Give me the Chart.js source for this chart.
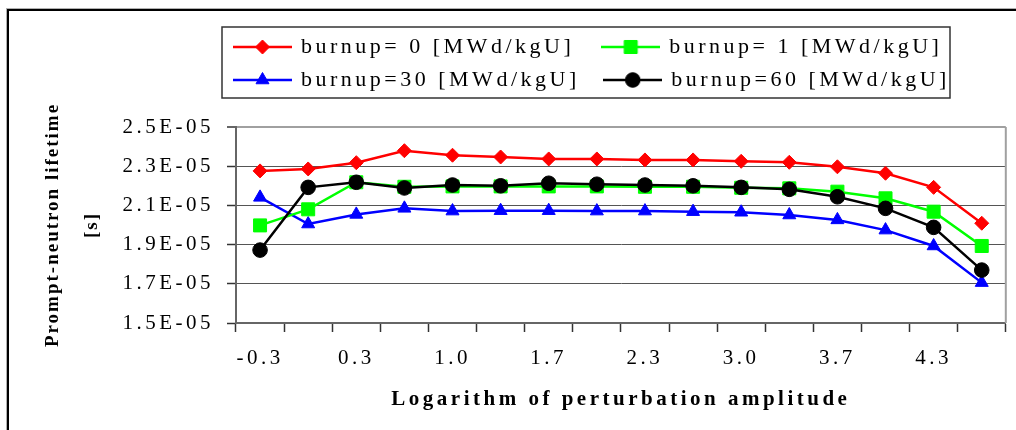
<!DOCTYPE html>
<html>
<head>
<meta charset="utf-8">
<script src="https://cdn.jsdelivr.net/npm/chart.js@4.4.1/dist/chart.umd.min.js"></script>
<style>
  html, body { margin: 0; padding: 0; background: #ffffff; }
  canvas { display: block; }
</style>
</head>
<body>
<canvas id="c" width="1016" height="430"></canvas>
<script>
// ---- data ----
const categories = ['-0.3', '0.0', '0.3', '0.7', '1.0', '1.3', '1.7', '2.0', '2.3', '2.7', '3.0', '3.3', '3.7', '4.0', '4.3', '4.7'];
const burnup0  = [2.276e-5, 2.286e-5, 2.318e-5, 2.379e-5, 2.356e-5, 2.347e-5, 2.337e-5, 2.337e-5, 2.332e-5, 2.332e-5, 2.325e-5, 2.320e-5, 2.297e-5, 2.264e-5, 2.192e-5, 2.009e-5];
const burnup1  = [1.998e-5, 2.080e-5, 2.218e-5, 2.195e-5, 2.197e-5, 2.197e-5, 2.197e-5, 2.197e-5, 2.195e-5, 2.195e-5, 2.190e-5, 2.187e-5, 2.170e-5, 2.136e-5, 2.068e-5, 1.893e-5];
const burnup30 = [2.141e-5, 2.005e-5, 2.054e-5, 2.085e-5, 2.071e-5, 2.073e-5, 2.073e-5, 2.071e-5, 2.071e-5, 2.068e-5, 2.065e-5, 2.051e-5, 2.026e-5, 1.974e-5, 1.893e-5, 1.706e-5];
const burnup60 = [1.872e-5, 2.192e-5, 2.218e-5, 2.189e-5, 2.204e-5, 2.200e-5, 2.213e-5, 2.208e-5, 2.204e-5, 2.200e-5, 2.192e-5, 2.182e-5, 2.144e-5, 2.085e-5, 1.988e-5, 1.770e-5];
const seriesLabels = ['burnup= 0 [MWd/kgU]', 'burnup= 1 [MWd/kgU]', 'burnup=30 [MWd/kgU]', 'burnup=60 [MWd/kgU]'];
const yTickLabels = ['1.5E-05', '1.7E-05', '1.9E-05', '2.1E-05', '2.3E-05', '2.5E-05'];
const yMin = 1.5e-5, yMax = 2.5e-5, yStep = 0.2e-5;

const SERIF = "'Liberation Serif', 'Times New Roman', serif";
const colors = ['#ff0000', '#00ff00', '#0000ff', '#000000'];
const styles = ['rectRot', 'rect', 'triangle', 'circle'];
const radii = [7, 9.2, 7.5, 7.3];
const seriesData = [burnup0, burnup1, burnup30, burnup60];
const drawOrder = [1, 2, 3, 0];
// trailing gap after each legend text so that the legend columns line up
const legendGaps = ['  ', '  ', '\u2002', '\u2002'];

// legend samples: a line with the marker, using the library's own point drawing
function makeIcon(i) {
  const c = document.createElement('canvas');
  c.width = 59; c.height = 20;
  const g = c.getContext('2d');
  g.strokeStyle = colors[i];
  g.fillStyle = colors[i];
  g.lineWidth = 2.5;
  g.beginPath(); g.moveTo(0, 10); g.lineTo(59, 10); g.stroke();
  g.lineWidth = 1;
  Chart.helpers.drawPoint(g, {pointStyle: styles[i], radius: radii[i], rotation: 0, borderWidth: 1}, 29.5, 10);
  return c;
}
const icons = [0, 1, 2, 3].map(makeIcon);

const layoutPlugin = {
  id: 'layoutTweaks',
  afterInit(chart) {
    const lg = chart.legend;
    const fit = lg.fit;
    lg.fit = function () { fit.call(this); this.height += 26; };
  },
  beforeUpdate(chart) { chart.ctx.letterSpacing = '3.5px'; },
  afterLayout(chart) { chart.legend.left = 224; },
  beforeDraw(chart) {
    const ctx = chart.ctx;
    ctx.letterSpacing = '3.5px';
    const ys = chart.scales.y;
    if (ys && !ys._lsPatched) {
      const orig = ys.drawTitle;
      ys.drawTitle = function () {
        const c = this.ctx; const o = c.letterSpacing;
        c.letterSpacing = '2px';
        orig.apply(this, arguments);
        c.letterSpacing = o;
      };
      ys._lsPatched = true;
    }
    // outer frame
    ctx.save();
    ctx.strokeStyle = '#b0b0b0'; ctx.lineWidth = 1;
    ctx.strokeRect(6.5, 8.5, 2000, 2000);
    ctx.strokeStyle = '#000000'; ctx.lineWidth = 2;
    ctx.strokeRect(8, 10, 2000, 2000);
    ctx.restore();
  },
  beforeDatasetsDraw(chart) {
    const {ctx, chartArea: a} = chart;
    ctx.save();
    ctx.strokeStyle = '#a0a0a0'; ctx.lineWidth = 2;
    ctx.beginPath(); ctx.moveTo(a.right, a.top); ctx.lineTo(a.right, a.bottom); ctx.stroke();
    ctx.restore();
  },
  afterDraw(chart) {
    const {ctx} = chart; const lg = chart.legend;
    ctx.save();
    ctx.strokeStyle = '#333333'; ctx.lineWidth = 1.5;
    ctx.strokeRect(lg.left - 2, lg.top + 2, 728, 71);
    ctx.restore();
  }
};

new Chart(document.getElementById('c'), {
  type: 'line',
  data: {
    labels: categories,
    datasets: seriesData.map((d, i) => ({
      label: seriesLabels[i],
      data: d,
      borderColor: colors[i],
      backgroundColor: colors[i],
      borderWidth: 2.5,
      pointStyle: styles[i],
      pointRadius: radii[i],
      pointHoverRadius: radii[i],
      pointBorderWidth: 1,
      pointBackgroundColor: colors[i],
      pointBorderColor: colors[i],
      tension: 0,
      fill: false,
      order: drawOrder[i]
    }))
  },
  options: {
    responsive: false,
    animation: false,
    events: [],
    layout: { padding: { left: 10, right: 9, top: 25, bottom: 0 } },
    plugins: {
      tooltip: { enabled: false },
      legend: {
        display: true,
        position: 'top',
        align: 'start',
        labels: {
          usePointStyle: true,
          pointStyleWidth: 55,
          padding: 11,
          color: '#000000',
          font: { family: SERIF, size: 22 },
          generateLabels(chart) {
            return chart.data.datasets.map((ds, i) => ({
              text: ds.label + legendGaps[i],
              fillStyle: colors[i],
              strokeStyle: colors[i],
              lineWidth: 0,
              pointStyle: icons[i],
              hidden: false,
              datasetIndex: i,
              fontColor: '#000000'
            }));
          }
        }
      }
    },
    scales: {
      x: {
        type: 'category',
        offset: true,
        afterFit(s) { s.height = 107; },
        grid: { offset: true, drawOnChartArea: false, drawTicks: true, tickLength: 9, tickColor: '#333333', tickWidth: 1.5 },
        border: { display: true, color: '#666666', width: 2 },
        ticks: {
          autoSkip: false, maxRotation: 0, minRotation: 0, padding: 14,
          color: '#000000',
          font: { family: SERIF, size: 21 },
          callback(v, i) { return i % 2 === 0 ? categories[i] : ''; }
        },
        title: {
          display: true,
          text: 'Logarithm of perturbation amplitude',
          color: '#000000',
          font: { family: SERIF, size: 21, weight: 'bold' },
          padding: { top: 0, bottom: 17.4 }
        }
      },
      y: {
        min: yMin, max: yMax,
        afterFit(s) { s.width = 226; },
        grid: {
          drawOnChartArea: true, drawTicks: true, tickLength: 9,
          tickColor: '#333333', tickWidth: 1.5,
          color(c) { return c.tick && Math.abs(c.tick.value - yMax) < 1e-9 ? '#a0a0a0' : '#555555'; },
          lineWidth(c) { return c.tick && Math.abs(c.tick.value - yMax) < 1e-9 ? 2 : 1; }
        },
        border: { display: true, color: '#666666', width: 2 },
        ticks: {
          stepSize: yStep, autoSkip: false, padding: 13,
          color: '#000000',
          font: { family: SERIF, size: 21 },
          callback(v, i) { return yTickLabels[i]; }
        },
        title: {
          display: true,
          text: ['Prompt-neutron lifetime', '[s]'],
          color: '#000000',
          font: { family: SERIF, size: 19, weight: 'bold', lineHeight: 2.05 },
          padding: { top: 23.5, bottom: 0 }
        }
      }
    }
  },
  plugins: [layoutPlugin]
});
</script>
</body>
</html>
